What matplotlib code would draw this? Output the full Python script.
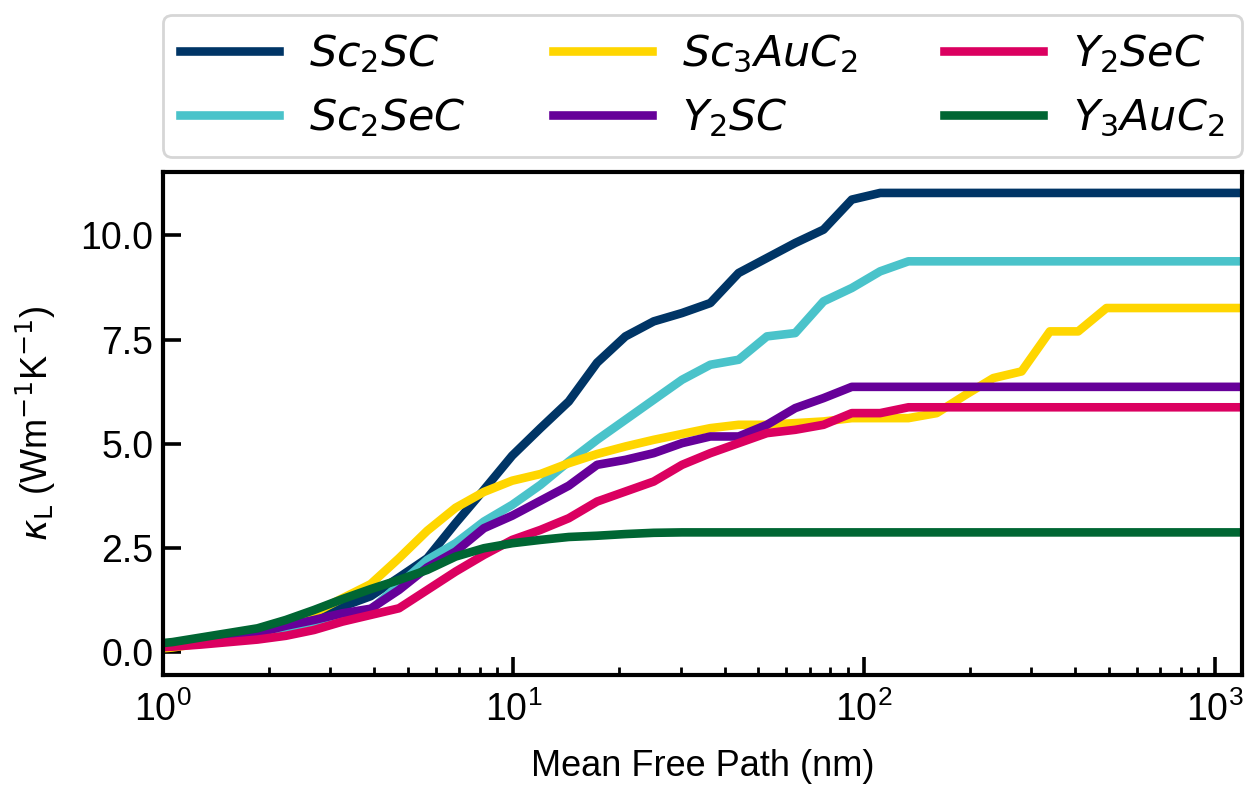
import matplotlib
matplotlib.use("Agg")
import matplotlib.pyplot as plt

plt.rcParams["font.family"] = ["Liberation Sans", "DejaVu Sans"]
plt.rcParams["mathtext.fontset"] = "dejavusans"
plt.rcParams["axes.linewidth"] = 1.5

# mean free path grid (nm)
mfp = [0.884, 1.065, 1.283, 1.545, 1.861, 2.240, 2.698, 3.249, 3.913, 4.713,
       5.676, 6.836, 8.233, 9.914, 11.94, 14.38, 17.32, 20.86, 25.12, 30.26,
       36.44, 43.88, 52.85, 63.65, 76.65, 92.30, 111.2, 133.9, 161.2, 194.2,
       233.8, 281.6, 339.1, 408.4, 491.8, 592.3, 713.3, 859.0, 1034.6, 1246.0]

# cumulative lattice thermal conductivity
sc2sc = [0.15, 0.20, 0.27, 0.36, 0.47, 0.63, 0.84, 1.10, 1.35, 1.80,
         2.26, 3.10, 3.90, 4.72, 5.38, 6.02, 6.95, 7.58, 7.94, 8.14,
         8.38, 9.10, 9.46, 9.82, 10.14, 10.86, 11.02, 11.02, 11.02, 11.02,
         11.02, 11.02, 11.02, 11.02, 11.02, 11.02, 11.02, 11.02, 11.02, 11.02]
sc2sec = [0.15, 0.20, 0.27, 0.36, 0.46, 0.58, 0.74, 0.90, 1.02, 1.62,
          2.22, 2.62, 3.14, 3.54, 4.02, 4.58, 5.10, 5.58, 6.06, 6.54,
          6.90, 7.02, 7.58, 7.66, 8.42, 8.74, 9.14, 9.38, 9.38, 9.38,
          9.38, 9.38, 9.38, 9.38, 9.38, 9.38, 9.38, 9.38, 9.38, 9.38]
sc3auc2 = [0.06, 0.12, 0.22, 0.33, 0.47, 0.66, 0.95, 1.30, 1.64, 2.26,
           2.92, 3.47, 3.85, 4.12, 4.28, 4.54, 4.76, 4.94, 5.10, 5.24,
           5.38, 5.46, 5.46, 5.50, 5.54, 5.62, 5.62, 5.62, 5.74, 6.17,
           6.58, 6.74, 7.70, 7.70, 8.26, 8.26, 8.26, 8.26, 8.26, 8.26]
y2sc = [0.13, 0.18, 0.26, 0.36, 0.47, 0.64, 0.78, 0.94, 1.05, 1.50,
        2.04, 2.42, 2.98, 3.28, 3.64, 4.00, 4.50, 4.62, 4.78, 5.02,
        5.18, 5.18, 5.46, 5.86, 6.10, 6.37, 6.37, 6.37, 6.37, 6.37,
        6.37, 6.37, 6.37, 6.37, 6.37, 6.37, 6.37, 6.37, 6.37, 6.37]
y2sec = [0.11, 0.14, 0.19, 0.25, 0.31, 0.40, 0.54, 0.74, 0.90, 1.06,
         1.50, 1.94, 2.34, 2.70, 2.94, 3.22, 3.62, 3.86, 4.10, 4.50,
         4.78, 5.02, 5.26, 5.34, 5.46, 5.74, 5.74, 5.88, 5.88, 5.88,
         5.88, 5.88, 5.88, 5.88, 5.88, 5.88, 5.88, 5.88, 5.88, 5.88]
y3auc2 = [0.18, 0.25, 0.36, 0.47, 0.58, 0.78, 1.02, 1.28, 1.52, 1.74,
          1.98, 2.30, 2.50, 2.62, 2.70, 2.77, 2.80, 2.84, 2.87, 2.88,
          2.88, 2.88, 2.88, 2.88, 2.88, 2.88, 2.88, 2.88, 2.88, 2.88,
          2.88, 2.88, 2.88, 2.88, 2.88, 2.88, 2.88, 2.88, 2.88, 2.88]

labels = ["$Sc_2SC$", "$Sc_2SeC$", "$Sc_3AuC_2$", "$Y_2SC$", "$Y_2SeC$", "$Y_3AuC_2$"]
colors = ["#003566", "#4AC3CA", "#FFD600", "#660099", "#DB0060", "#006633"]
series = [sc2sc, sc2sec, sc3auc2, y2sc, y2sec, y3auc2]

fig = plt.figure(figsize=(6.24, 3.93), dpi=200)
ax = fig.add_axes([0.1306, 0.1412, 0.8646, 0.6404])

for vals, lab, col in zip(series, labels, colors):
    ax.plot(mfp, vals, color=col, lw=3.1, label=lab)

ax.set_xscale("log")
ax.set_xlim(1, 1198)
ax.set_ylim(-0.54, 11.53)
ax.set_yticks([0.0, 2.5, 5.0, 7.5, 10.0])
ax.set_yticklabels(["0.0", "2.5", "5.0", "7.5", "10.0"])

ax.tick_params(which="major", direction="in", length=6.5, width=1.3, labelsize=13.5)
ax.tick_params(which="minor", direction="in", length=3, width=1.0)
ax.tick_params(axis="x", pad=6)

ax.set_xlabel("Mean Free Path (nm)", fontsize=13, labelpad=7)
ax.set_ylabel(r"$\kappa_{\rm L}$ (Wm$^{-1}$K$^{-1}$)", fontsize=13, labelpad=8)

ax.legend(ncol=3, loc="lower left", bbox_to_anchor=(0, 1.03, 1, 0.2),
          mode="expand", fontsize=15.5, handlelength=2.3, handletextpad=0.7,
          borderaxespad=0)

fig.savefig("out.png", dpi=200)
